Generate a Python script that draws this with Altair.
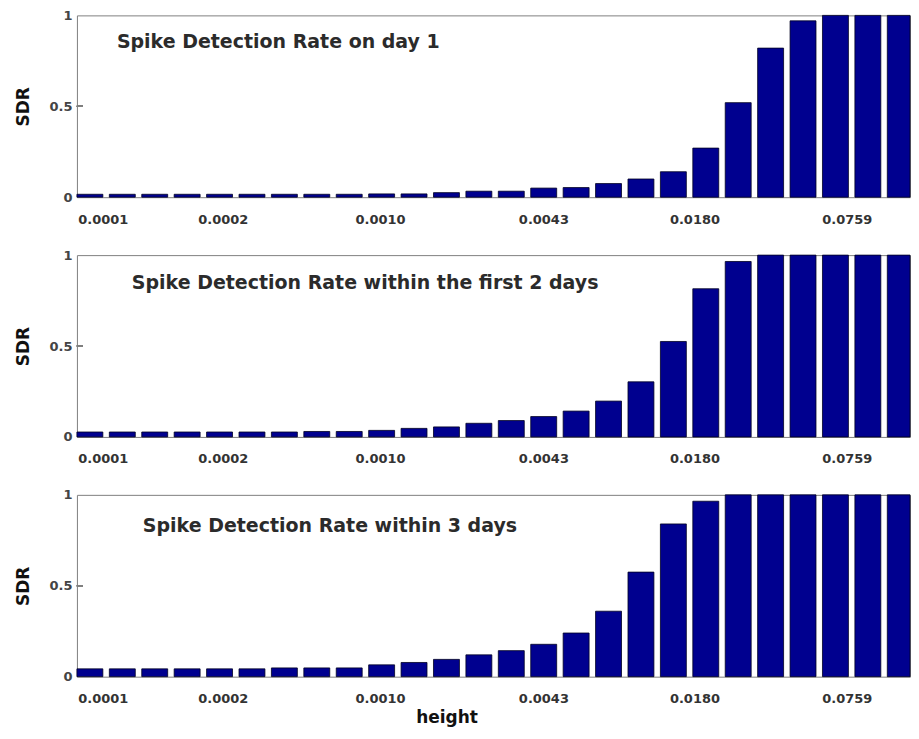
import altair as alt
import pandas as pd

# ---- data ----
bar_index = list(range(1, 27))
# where the reference places its x tick labels, in bar-number units
tick_positions = [1.4, 5.1, 9.95, 14.99, 19.65, 24.35]
tick_labels = ["0.0001", "0.0002", "0.0010", "0.0043", "0.0180", "0.0759"]

sdr_day1 = [0.016, 0.016, 0.016, 0.016, 0.016, 0.016, 0.016, 0.016, 0.016,
            0.018, 0.018, 0.025, 0.033, 0.033, 0.050, 0.053, 0.075, 0.100,
            0.140, 0.270, 0.520, 0.820, 0.970, 1.0, 1.0, 1.0]
sdr_2days = [0.027, 0.027, 0.027, 0.027, 0.027, 0.027, 0.027, 0.030, 0.030,
             0.036, 0.047, 0.055, 0.075, 0.090, 0.112, 0.142, 0.197, 0.303,
             0.525, 0.815, 0.965, 1.0, 1.0, 1.0, 1.0, 1.0]
sdr_3days = [0.043, 0.043, 0.043, 0.043, 0.043, 0.043, 0.048, 0.048, 0.048,
             0.065, 0.078, 0.095, 0.120, 0.143, 0.178, 0.240, 0.360, 0.575,
             0.840, 0.965, 1.0, 1.0, 1.0, 1.0, 1.0, 1.0]

panel_titles = ["Spike Detection Rate on day 1",
                "Spike Detection Rate within the first 2 days",
                "Spike Detection Rate within 3 days"]

# ---- styling ----
FONT = "DejaVu Sans"
BAR_FILL = "#00008f"
FRAME = "#808080"
W, H = 834, 182
BAR_HALF = 0.4                 # bar width 0.8 of the slot (MATLAB default)
X_DOMAIN = [0.6, 26.3]         # axis starts at the first bar; right side cut off

label_map = "{" + ", ".join(f"'{p}': '{l}'" for p, l in zip(tick_positions, tick_labels)) + "}"
label_expr = f"{label_map}[datum.value + ''] || ''"


def panel(values, title, tx, ty, last):
    df = pd.DataFrame({"bar": bar_index, "sdr": values})
    x_axis_kwargs = dict(
        values=tick_positions, labelExpr=label_expr, labelAngle=0, ticks=False,
        domain=False, grid=False, labelFont=FONT, labelFontSize=13,
        labelFontWeight="bold", labelColor="#333333", labelPadding=16,
        labelFlush=False,
    )
    if last:
        x_axis_kwargs.update(title="height", titleFont=FONT, titleFontSize=17,
                             titleFontWeight="bold", titleColor="#111111",
                             titleX=370, titleY=33, titleBaseline="top",
                             titleAlign="center")
    else:
        x_axis_kwargs.update(title=None)

    bars = alt.Chart(df).transform_calculate(
        x_lo=f"datum.bar - {BAR_HALF}", x_hi=f"datum.bar + {BAR_HALF}"
    ).mark_bar(
        color=BAR_FILL, stroke="#000022", strokeWidth=0.8
    ).encode(
        x=alt.X("x_lo:Q",
                scale=alt.Scale(domain=X_DOMAIN, clamp=True, nice=False, zero=False),
                axis=alt.Axis(**x_axis_kwargs)),
        x2="x_hi:Q",
        y=alt.Y("sdr:Q", scale=alt.Scale(domain=[0, 1], nice=False),
                axis=alt.Axis(values=[0, 0.5, 1], labelExpr="datum.value + ''",
                              ticks=False, domain=False, grid=False,
                              labelFont=FONT, labelFontSize=13,
                              labelFontWeight="bold",
                              labelColor="#444444", labelPadding=5,
                              minExtent=30, maxExtent=30,
                              title="SDR", titleFont=FONT, titleFontSize=17,
                              titleFontWeight="bold", titleColor="#111111",
                              titlePadding=14)),
        y2=alt.datum(0),
    )
    tick = alt.Chart(df).mark_rule(color=FRAME).encode(
        y=alt.datum(0.5), x=alt.value(0), x2=alt.value(6)
    )
    txt = alt.Chart(pd.DataFrame({"t": [title]})).mark_text(
        align="left", baseline="middle", font=FONT, fontSize=19,
        fontWeight="bold", color="#2b2b2b"
    ).encode(x=alt.value(tx), y=alt.value(ty), text="t:N")
    return alt.layer(bars, tick, txt).properties(width=W, height=H)


p1 = panel(sdr_day1, panel_titles[0], 40, 27, False)
p2 = panel(sdr_2days, panel_titles[1], 55, 28, False)
p3 = panel(sdr_3days, panel_titles[2], 66, 31, True)

chart = alt.vconcat(p1, p2, p3, spacing=58, bounds="flush").configure_view(
    stroke=FRAME, strokeWidth=1
).properties(
    padding={"left": 6, "top": 0, "right": 0, "bottom": 0},
    background="white",
)

chart.save("out.html", embed_options={"renderer": "svg", "actions": False})
